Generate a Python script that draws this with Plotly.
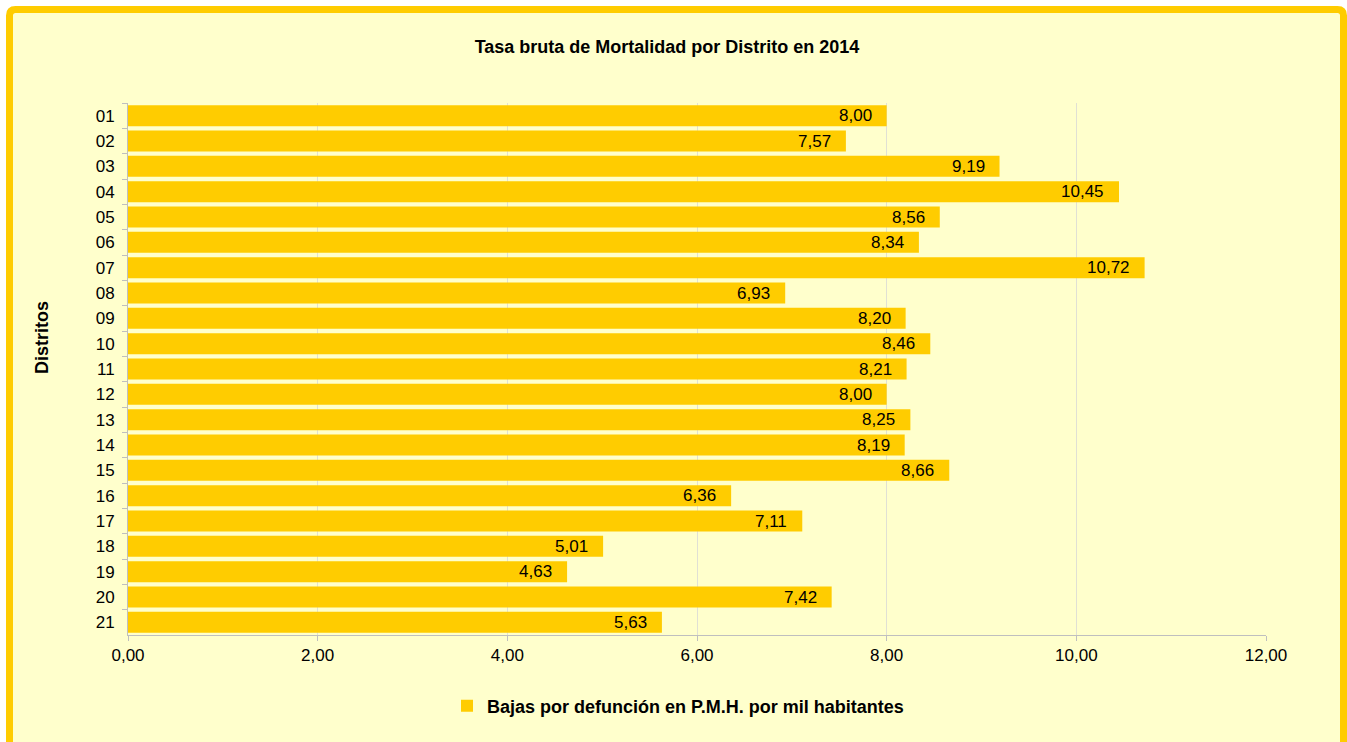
import plotly.graph_objects as go

distritos = ["01", "02", "03", "04", "05", "06", "07", "08", "09", "10", "11",
             "12", "13", "14", "15", "16", "17", "18", "19", "20", "21"]
tasas = [8.00, 7.57, 9.19, 10.45, 8.56, 8.34, 10.72, 6.93, 8.20, 8.46, 8.21,
         8.00, 8.25, 8.19, 8.66, 6.36, 7.11, 5.01, 4.63, 7.42, 5.63]
x_ticks = [0, 2, 4, 6, 8, 10, 12]
serie = "Bajas por defunción en P.M.H. por mil habitantes"

W, H = 1347, 742
L, R, T, B = 128, 81, 103, 107
pw, ph = W - L - R, H - T - B

def px(x):
    return (x - L) / pw

def py(y):
    return 1 - (y - T) / ph

amarillo = "#FFCC00"
fondo = "#FFFFCC"

fig = go.Figure()
fig.add_trace(go.Bar(
    x=tasas, y=distritos, orientation="h",
    marker=dict(color=amarillo, line=dict(width=0)),
    name="<b>" + serie + "</b>", showlegend=True,
))

# etiquetas de valor dentro de la barra (y por indice de categoria)
for i, v in enumerate(tasas):
    fig.add_annotation(x=v, y=i, xref="x", yref="y", text=f"{v:.2f}".replace(".", ","),
                       showarrow=False, xanchor="right", xshift=-13,
                       font=dict(size=17, color="black"))

# marco amarillo con esquinas redondeadas
x0, x1, y0, y1, r = 9.5, 1343.5, 9.5, 780, 6
path = (f"M {px(x0)},{py(y0 + r)} Q {px(x0)},{py(y0)} {px(x0 + r)},{py(y0)} "
        f"L {px(x1 - r)},{py(y0)} Q {px(x1)},{py(y0)} {px(x1)},{py(y0 + r)} "
        f"L {px(x1)},{py(y1)} L {px(x0)},{py(y1)} Z")
fig.add_shape(type="path", path=path, xref="paper", yref="paper", layer="below",
              fillcolor=fondo, line=dict(color=amarillo, width=7))

fig.add_annotation(text="<b>Distritos</b>", xref="paper", yref="paper",
                   x=px(30), y=py(338), textangle=-90, showarrow=False,
                   font=dict(size=18, color="black"))

fig.update_layout(
    width=W, height=H,
    margin=dict(l=L, r=R, t=T, b=B),
    paper_bgcolor="white", plot_bgcolor="rgba(0,0,0,0)",
    font=dict(family="Liberation Sans, Arial", color="black", size=17),
    separators=",.",
    title=dict(text="<b>Tasa bruta de Mortalidad por Distrito en 2014</b>",
               x=667 / W, xanchor="center", y=1 - 47 / H, yanchor="middle",
               font=dict(size=18, color="black")),
    bargap=0.17,
    xaxis=dict(range=[0, 12], tickvals=x_ticks, tickformat=".2f",
               showgrid=True, gridcolor="#e0e0d4", gridwidth=1,
               showline=True, linecolor="#bfbfbf", linewidth=1,
               ticks="outside", ticklen=5, tickcolor="#bfbfbf",
               zeroline=False, tickfont=dict(size=17)),
    yaxis=dict(type="category", autorange="reversed", showgrid=False,
               showline=True, linecolor="#bfbfbf", linewidth=1,
               ticks="outside", ticklen=5, tickcolor="#bfbfbf",
               tickson="boundaries", ticklabelstandoff=9,
               tickfont=dict(size=17)),
    legend=dict(orientation="h", x=px(678), xanchor="center",
                y=py(706), yanchor="middle", bgcolor="rgba(0,0,0,0)",
                font=dict(size=18, color="black"), itemwidth=30),
)

fig.write_html("out.html", config={"displayModeBar": False},
               post_script="document.body.style.margin='0';document.body.style.padding='0';")
